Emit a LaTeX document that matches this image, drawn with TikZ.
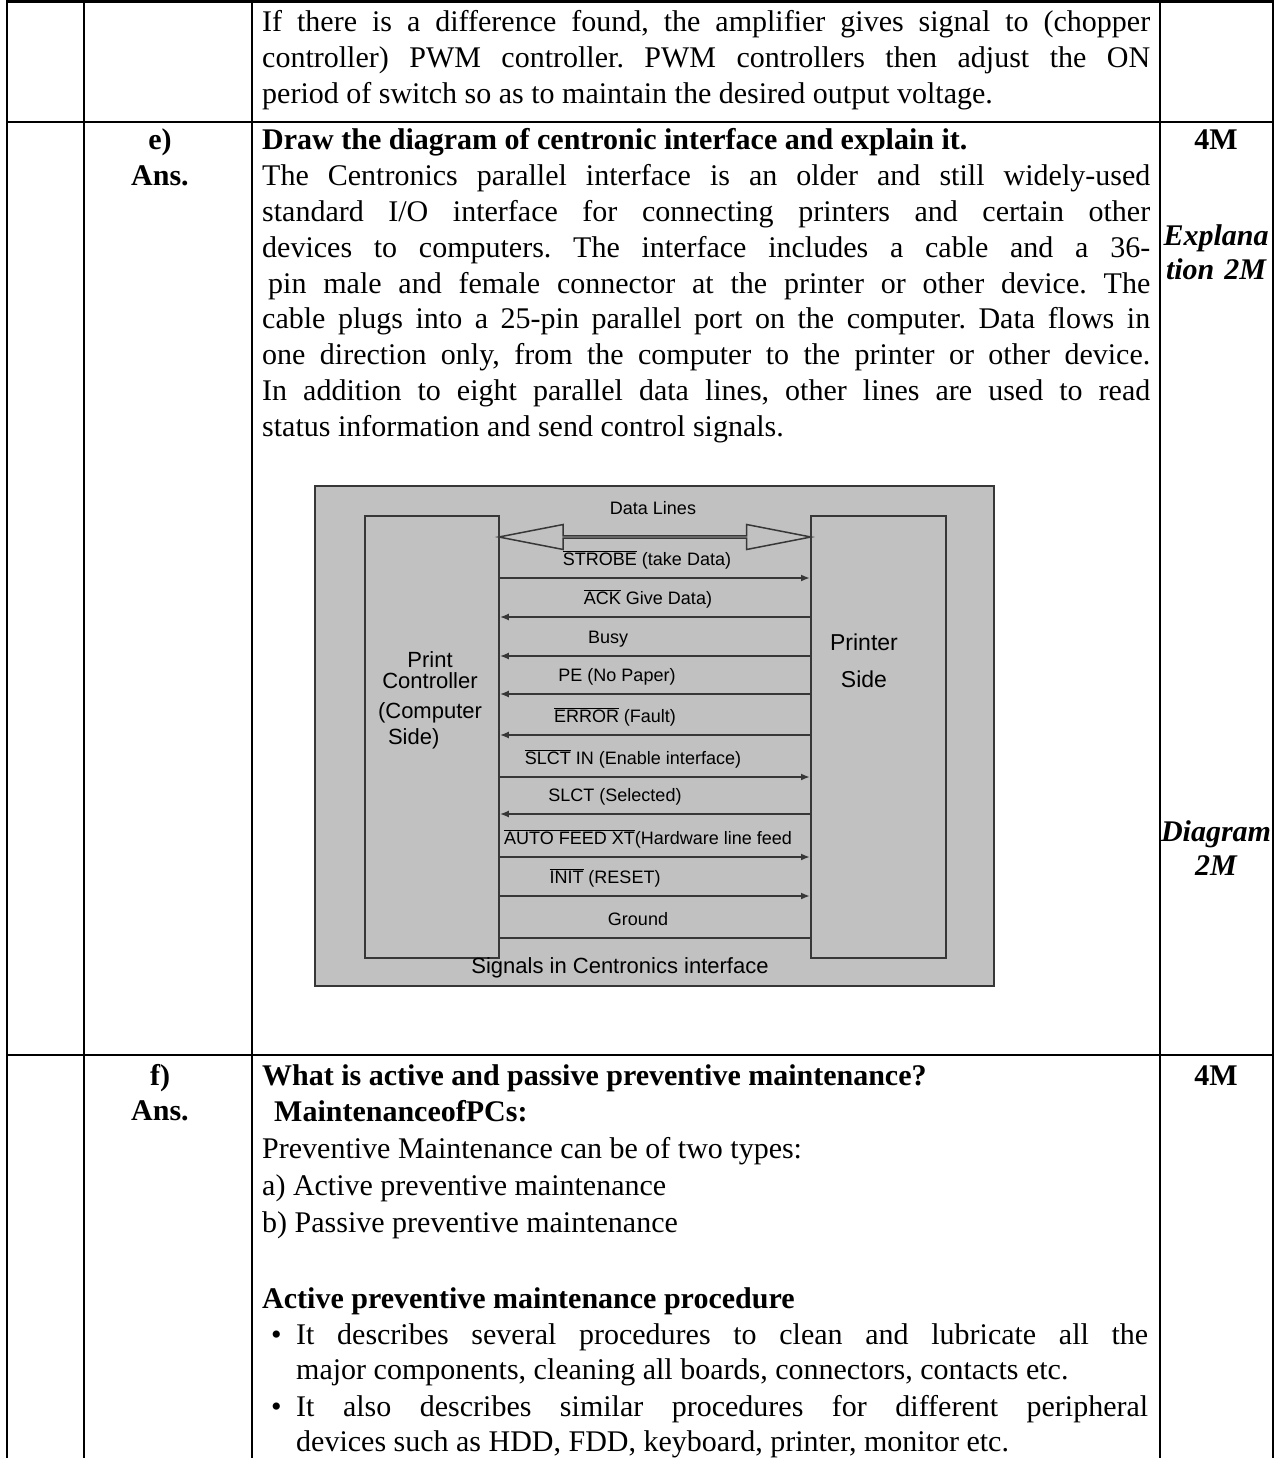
\documentclass[tikz,border=0pt]{standalone}
\usepackage{fontspec}
\setmainfont{Liberation Serif}
\newfontfamily\arialfont{Liberation Sans}
\usetikzlibrary{arrows.meta,shapes.arrows,calc}

\definecolor{panelgray}{RGB}{193,193,193}
\definecolor{edgegray}{RGB}{55,55,55}

\begin{document}
\frenchspacing
\begin{tikzpicture}[x=1pt,y=-1pt,>={Latex[length=9pt,width=7pt]}]
            \tikzstyle{rule}=[line width=2.2pt]
            \tikzstyle{txt}=[inner sep=0pt,anchor=base west,font=\fontsize{30}{35.8}\selectfont]
            \tikzstyle{txtb}=[txt,font=\fontsize{30}{35.8}\selectfont\bfseries]
            \tikzstyle{para}=[txt,text width=888pt,align=justify,execute at begin node={\hyphenpenalty=10000\exhyphenpenalty=10000}]
            \tikzstyle{qno}=[txt,anchor=base,text width=160pt,align=center,font=\fontsize{30}{35.8}\selectfont\bfseries]
            \tikzstyle{marks}=[qno,text width=112pt,font=\fontsize{30}{34.5}\selectfont\bfseries\itshape]
            \tikzstyle{panel}=[draw=edgegray,fill=panelgray,line width=1.8pt,inner sep=0pt]
            \tikzstyle{side}=[draw=edgegray,line width=1.8pt,inner sep=0pt]
            \tikzstyle{sidetext}=[font=\arialfont\fontsize{22}{21}\selectfont,align=center,inner sep=0pt]
            \tikzstyle{sigtext}=[font=\arialfont\fontsize{18}{20}\selectfont,inner sep=0pt,anchor=base]
            \tikzstyle{sigline}=[edgegray,line width=1.8pt]
            \tikzstyle{bus}=[double arrow,draw=edgegray,fill=panelgray,line width=1.5pt,inner sep=0pt,minimum width=25pt,double arrow head extend=7pt,double arrow tip angle=22]

            \useasboundingbox (0,0) rectangle (1277,1458);

            % table rules
            \draw[rule] (7,1.5) -- (1273,1.5);
            \draw[rule] (7,122) -- (1273,122);
            \draw[rule] (7,1055) -- (1273,1055);
            \foreach \x in {7,84,252,1160,1273}
                \draw[rule] (\x,0) -- (\x,1458);

            % end of the previous answer
            \node[para] (prev) at (262,32) {If there is a difference found, the amplifier gives signal to (chopper\linebreak controller) PWM controller. PWM controllers then adjust the ON\linebreak period of switch so as to maintain the desired output voltage.};

            % question e
            \node[qno] (qe) at (160,150) {e)\\Ans.};
            \node[qno] (me) at (1216,150) {4M};
            \node[marks] (mexp) at (1216,245) {Explana\\tion 2M};
            \node[marks] (mdia) at (1216,841) {Diagram\\2M};
            \node[para] (anse) at (262,150) {\textbf{Draw the diagram of centronic interface and explain it.}\\
                The Centronics parallel interface is an older and still widely-used\linebreak
                standard I/O interface for connecting printers and certain other\linebreak
                devices to computers. The interface includes a cable and a 36-\linebreak
                \hspace*{6pt}pin male and female connector at the printer or other device. The\linebreak
                cable plugs into a 25-pin parallel port on the computer. Data flows in\linebreak
                one direction only, from the computer to the printer or other device.\linebreak
                In addition to eight parallel data lines, other lines are used to read\linebreak
                status information and send control signals.};

            % centronics diagram
            \node[panel,minimum width=679pt,minimum height=500pt,anchor=north west] (frame) at (314,485) {};
            \node[side,minimum width=134pt,minimum height=442pt,anchor=north west] (pc) at (364,515) {};
            \node[side,minimum width=135pt,minimum height=442pt,anchor=north west] (pr) at (810,515) {};
            \node[sidetext] (pctext) at (430,700) {Print\\Controller\\[9pt](Computer\\[5pt]\makebox[104pt][l]{\hspace{10pt}Side)}};
            \node[sidetext,font=\arialfont\fontsize{23}{37}\selectfont] (prtext) at (864,661) {Printer\\Side};

            \node[sigtext] (dltext) at (653,514) {Data Lines};
            \coordinate (dl) at (0,537);
            \node[bus,minimum height=312pt] (dlarrow) at ($(pc.east |- dl)!.5!(pr.west |- dl)$) {};

            \foreach \ypos/\xpos/\txt/\tip [count=\k] in {
                578/647/{$\overline{\mbox{STROBE}}$ (take Data)}/->,
                617/648/{$\overline{\mbox{ACK}}$ Give Data)}/<-,
                656/608/{Busy}/<-,
                694/617/{PE (No Paper)}/<-,
                735/615/{$\overline{\mbox{ERROR}}$ (Fault)}/<-,
                777/633/{$\overline{\mbox{SLCT}}$ IN (Enable interface)}/->,
                814/615/{SLCT (Selected)}/<-,
                857/648/{$\overline{\mbox{AUTO FEED XT}}$(Hardware line feed}/->,
                896/605/{$\overline{\mbox{INIT}}$ (RESET)}/->,
                938/638/{Ground}/-}
            {
                \coordinate (y\k) at (0,\ypos);
                \node[sigtext] (s\k) at (\xpos,\ypos-13) {\txt};
                \draw[sigline,\tip] (pc.east |- y\k) -- (pr.west |- y\k);
            }
            \node[sigtext,font=\arialfont\fontsize{22}{24}\selectfont] (caption) at (620,973) {Signals in Centronics interface};

            % question f
            \node[qno] (qf) at (160,1085) {f)\\Ans.};
            \node[qno] (mf) at (1216,1085) {4M};
            \node[txtb] (ftitle) at (262,1085) {What is active and passive preventive maintenance?};
            \node[txtb] (fhead) at (274,1121) {MaintenanceofPCs:};
            \node[txt] (ftypes) at (262,1158) {Preventive Maintenance can be of two types:};
            \node[txt] (fa) at (262,1195) {a) Active preventive maintenance};
            \node[txt] (fb) at (262,1232) {b) Passive preventive maintenance};
            \node[txtb] (fproc) at (262,1308) {Active preventive maintenance procedure};
            \node[txt] (dot1) at (271,1344) {\textbullet};
            \node[para,text width=852pt] (item1) at (296,1344) {It describes several procedures to clean and lubricate all the\linebreak major components, cleaning all boards, connectors, contacts etc.};
            \node[txt] (dot2) at (271,1416) {\textbullet};
            \node[para,text width=852pt] (item2) at (296,1416) {It also describes similar procedures for different peripheral\linebreak devices such as HDD, FDD, keyboard, printer, monitor etc.};
\end{tikzpicture}
\end{document}
